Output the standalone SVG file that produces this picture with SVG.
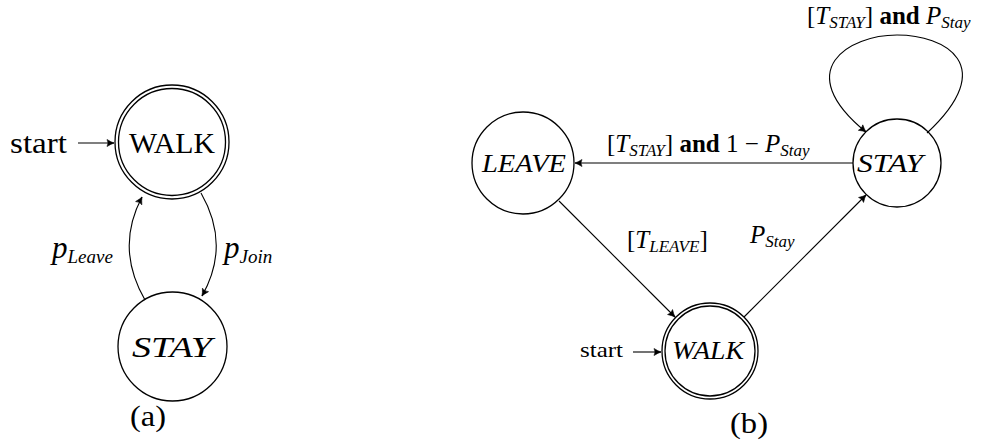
<svg xmlns="http://www.w3.org/2000/svg" width="990" height="441" viewBox="0 0 990 441" font-family="'Liberation Serif', 'Times New Roman', 'DejaVu Serif', serif">
<style>
.st{fill:none;stroke:#000;stroke-width:1.3}
.e{fill:none;stroke:#000;stroke-width:1.1}
.it{font-style:italic}
.b{font-weight:bold}
.big{font-size:30px}
.lab{font-size:31px}
.med{font-size:25px}
.sm{font-size:22px}
.lb{font-size:25px}
.sub{font-size:19px}
.subs{font-size:17px}
</style>
<defs>
<marker id="ah" markerWidth="10" markerHeight="10" refX="8" refY="5" orient="auto" markerUnits="userSpaceOnUse">
<path d="M1,1.5 Q5,4 8,5 Q5,6 1,8.5 Q3,5 1,1.5 z" fill="#000" stroke="#000" stroke-width="0.6"/>
</marker>
</defs>

<g id="a-walk">
<circle class="st" cx="172" cy="142" r="57"/>
<circle class="st" cx="172" cy="142" r="53.5"/>
<text class="big" x="172" y="153" text-anchor="middle" textLength="86" lengthAdjust="spacingAndGlyphs">WALK</text>
</g>
<g id="a-stay">
<circle class="st" cx="172.5" cy="346.5" r="54.5"/>
<text class="big it" x="172" y="357" text-anchor="middle" textLength="80" lengthAdjust="spacingAndGlyphs">STAY</text>
</g>
<g id="a-start">
<text class="big" x="10" y="153" textLength="57" lengthAdjust="spacingAndGlyphs">start</text>
</g>
<text class="big" x="148" y="426" text-anchor="middle" textLength="36" lengthAdjust="spacingAndGlyphs">(a)</text>

<g id="b-leave">
<circle class="st" cx="523" cy="163" r="51"/>
<text class="med it" x="524" y="172" text-anchor="middle" textLength="84" lengthAdjust="spacingAndGlyphs">LEAVE</text>
</g>
<g id="b-stay">
<circle class="st" cx="897" cy="163" r="44"/>
<text class="med it" x="890" y="172" text-anchor="middle" textLength="66" lengthAdjust="spacingAndGlyphs">STAY</text>
</g>
<g id="b-walk">
<circle class="st" cx="710" cy="351" r="48"/>
<circle class="st" cx="710" cy="351" r="45"/>
<text class="med it" x="708" y="359" text-anchor="middle" textLength="72" lengthAdjust="spacingAndGlyphs">WALK</text>
</g>
<g id="b-start">
<text class="sm" x="580" y="357" textLength="43" lengthAdjust="spacingAndGlyphs">start</text>
</g>
<text class="big" x="749" y="433" text-anchor="middle" textLength="38" lengthAdjust="spacingAndGlyphs">(b)</text>

<g id="connectors">
<line class="e" x1="78" y1="143" x2="114" y2="143" marker-end="url(#ah)"/>
<path class="e" d="M145,300 Q115,248 142,197" marker-end="url(#ah)"/>
<path class="e" d="M201,193 Q231,245 202,296" marker-end="url(#ah)"/>
<line class="e" x1="633" y1="352" x2="661" y2="352" marker-end="url(#ah)"/>
<line class="e" x1="853" y1="163" x2="575" y2="163" marker-end="url(#ah)"/>
<line class="e" x1="559" y1="201" x2="675" y2="317" marker-end="url(#ah)"/>
<line class="e" x1="744" y1="317" x2="866" y2="195" marker-end="url(#ah)"/>
<path class="e" d="M927,133 C1000,65 945,35 897,35 C849,35 790,70 866,132" marker-end="url(#ah)"/>
</g>

<g id="labels">
<text class="lab it" x="52" y="258">p<tspan class="sub" dy="5">Leave</tspan></text>
<text class="lab it" x="224" y="258">p<tspan class="sub" dy="5">Join</tspan></text>
<text class="lb" x="607" y="152">[<tspan class="it">T</tspan><tspan class="subs it" dy="4">STAY</tspan><tspan dy="-4">] </tspan><tspan class="b">and</tspan> 1 − <tspan class="it">P</tspan><tspan class="subs it" dy="4">Stay</tspan></text>
<text class="lb" x="627" y="248">[<tspan class="it">T</tspan><tspan class="subs it" dy="4">LEAVE</tspan><tspan dy="-4">]</tspan></text>
<text class="lb it" x="750" y="243">P<tspan class="subs" dy="4">Stay</tspan></text>
<text class="lb" x="807" y="24">[<tspan class="it">T</tspan><tspan class="subs it" dy="4">STAY</tspan><tspan dy="-4">] </tspan><tspan class="b">and</tspan> <tspan class="it">P</tspan><tspan class="subs it" dy="4">Stay</tspan></text>
</g>
</svg>
